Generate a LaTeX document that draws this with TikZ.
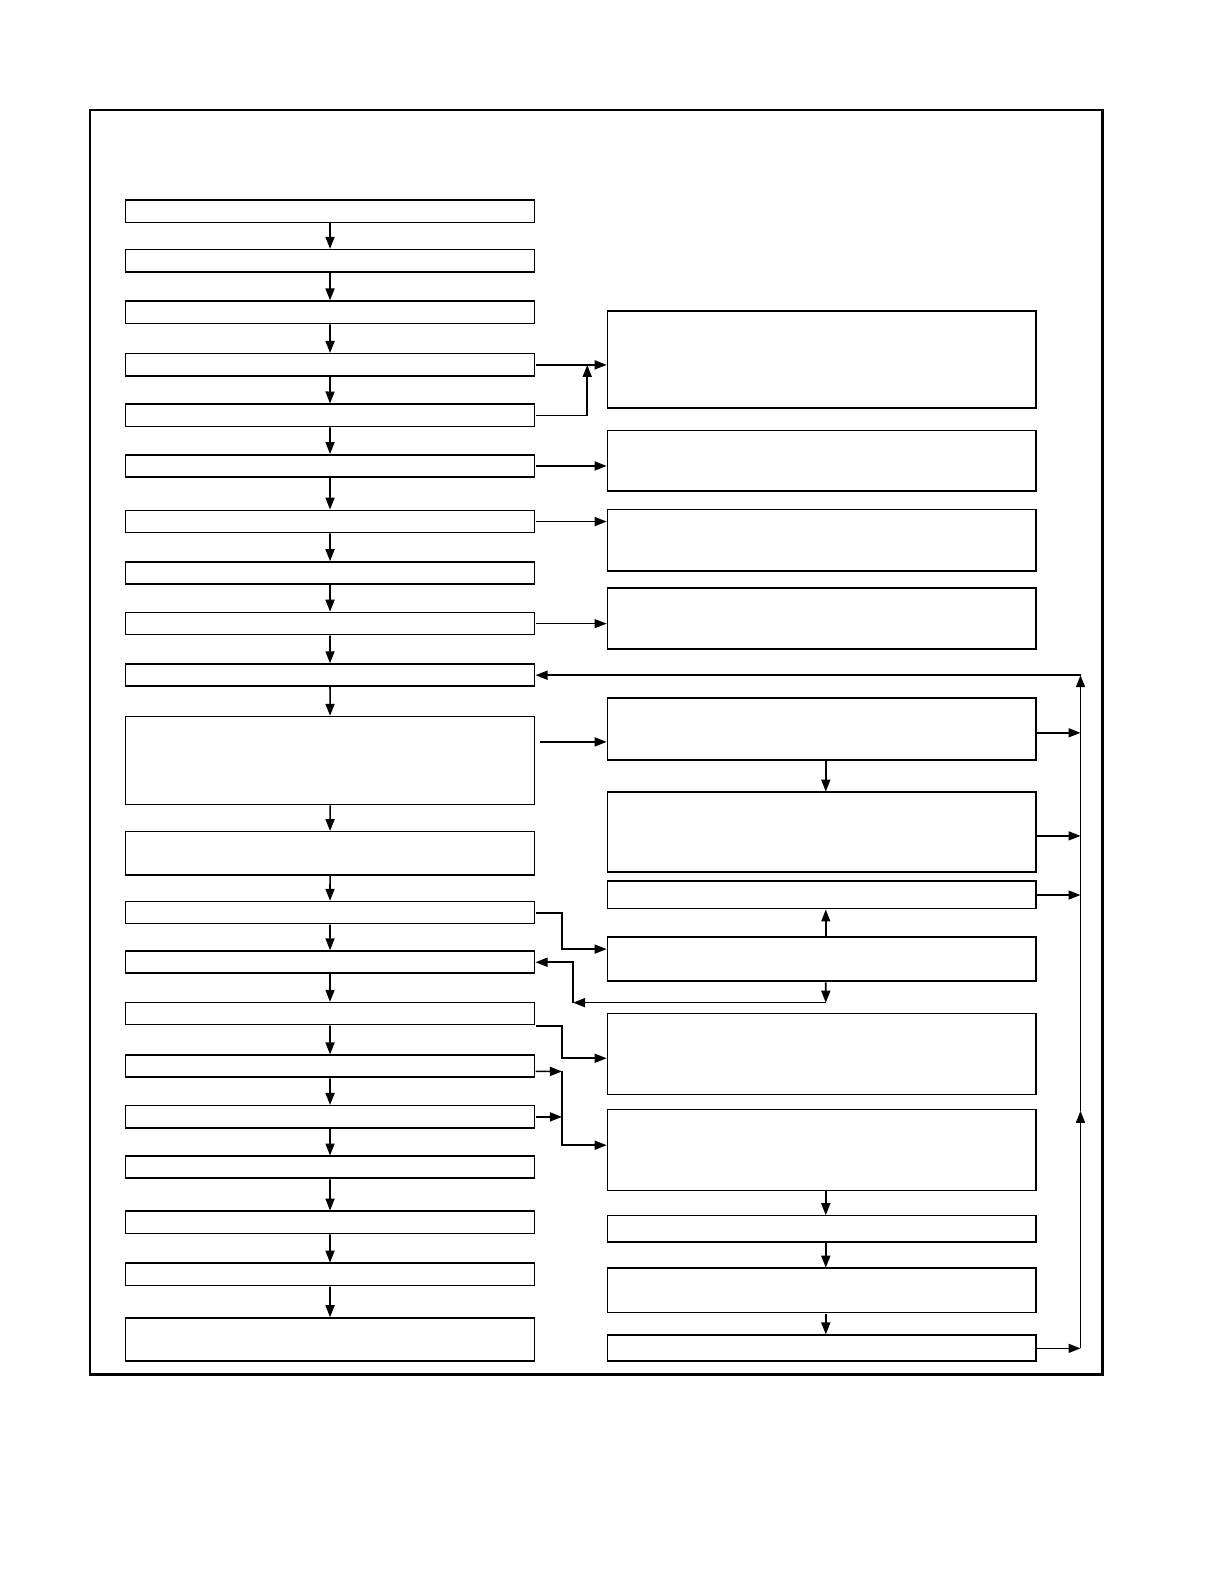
\documentclass[tikz,border=0pt]{standalone}
\usetikzlibrary{arrows.meta,positioning}
\tikzset
{
    lbox/.style  = {rectangle, draw=black, line width=1.6pt, minimum width=405pt, minimum height=#1, inner sep=0pt},
    rbox/.style  = {rectangle, draw=black, line width=1.6pt, minimum width=424pt, minimum height=#1, inner sep=0pt},
    arrow/.style = {line width=1.6pt, -{Triangle[length=12pt,width=9pt]}},
    frame/.style = {line width=2.6pt}
}

\begin{document}
\begin{tikzpicture}[x=1pt, y=-1pt, scale=1.0105, transform shape]

   \useasboundingbox (0,0) rectangle (1211.3,1567.5);
   \draw[frame] (89,109) rectangle (1091,1360);

   \node (l1)  [lbox=22pt] at (326.5, 209)    {};
   \node (l2)  [lbox=22pt] at (326.5, 258)    {};
   \node (l3)  [lbox=22pt] at (326.5, 309)    {};
   \node (l4)  [lbox=22pt] at (326.5, 361)    {};
   \node (l5)  [lbox=22pt] at (326.5, 411)    {};
   \node (l6)  [lbox=22pt] at (326.5, 461)    {};
   \node (l7)  [lbox=22pt] at (326.5, 516)    {};
   \node (l8)  [lbox=22pt] at (326.5, 567)    {};
   \node (l9)  [lbox=22pt] at (326.5, 617)    {};
   \node (l10) [lbox=22pt] at (326.5, 668)    {};
   \node (l11) [lbox=87pt] at (326.5, 752.5)  {};
   \node (l12) [lbox=43pt] at (326.5, 844.5)  {};
   \node (l13) [lbox=22pt] at (326.5, 903)    {};
   \node (l14) [lbox=22pt] at (326.5, 952)    {};
   \node (l15) [lbox=22pt] at (326.5, 1003)   {};
   \node (l16) [lbox=22pt] at (326.5, 1055)   {};
   \node (l17) [lbox=22pt] at (326.5, 1105)   {};
   \node (l18) [lbox=22pt] at (326.5, 1155)   {};
   \node (l19) [lbox=22pt] at (326.5, 1209.5) {};
   \node (l20) [lbox=22pt] at (326.5, 1261)   {};
   \node (l21) [lbox=43pt] at (326.5, 1325.5) {};

   \node (r1)  [rbox=96pt] at (813, 356)      {};
   \node (r2)  [rbox=60pt] at (813, 456)      {};
   \node (r3)  [rbox=61pt] at (813, 534.5)    {};
   \node (r4)  [rbox=60pt] at (813, 612)      {};
   \node (r5)  [rbox=61pt] at (813, 721.5)    {};
   \node (r6)  [rbox=79pt] at (813, 823.5)    {};
   \node (r7)  [rbox=27pt] at (813, 885.5)    {};
   \node (r8)  [rbox=44pt] at (813, 949)      {};
   \node (r9)  [rbox=80pt] at (813, 1043)     {};
   \node (r10) [rbox=80pt] at (813, 1138)     {};
   \node (r11) [rbox=26pt] at (813, 1216)     {};
   \node (r12) [rbox=44pt] at (813, 1277)     {};
   \node (r13) [rbox=26pt] at (813, 1334)     {};

   \coordinate (j1)   at (581, 361);
   \coordinate (j2)   at (556, 939);
   \coordinate (j3)   at (817, 992);
   \coordinate (j4)   at (567, 992);
   \coordinate (j5)   at (556, 1047);
   \coordinate (j6)   at (556, 1133);
   \coordinate (j7)   at (556, 1060);
   \coordinate (btop) at (1069, 668);
   \coordinate (bmid) at (1069, 1099);
   \coordinate (bbot) at (1069, 1334);

   % left column
   \path[arrow]
      (l1)  edge (l2)
      (l2)  edge (l3)
      (l3)  edge (l4)
      (l4)  edge (l5)
      (l5)  edge (l6)
      (l6)  edge (l7)
      (l7)  edge (l8)
      (l8)  edge (l9)
      (l9)  edge (l10)
      (l10) edge (l11)
      (l11) edge (l12)
      (l12) edge (l13)
      (l13) edge (l14)
      (l14) edge (l15)
      (l15) edge (l16)
      (l16) edge (l17)
      (l17) edge (l18)
      (l18) edge (l19)
      (l19) edge (l20)
      (l20) edge (l21);

   % right column
   \path[arrow]
      ([xshift=4pt]r5.south)  edge ([xshift=4pt]r6.north)
      ([xshift=4pt]r8.north)  edge ([xshift=4pt]r7.south)
      ([xshift=4pt]r8.south)  edge (j3)
      ([xshift=4pt]r10.south) edge ([xshift=4pt]r11.north)
      ([xshift=4pt]r11.south) edge ([xshift=4pt]r12.north)
      ([xshift=4pt]r12.south) edge ([xshift=4pt]r13.north);

   % left to right
   \draw[arrow] (l4.east) -- (l4.east -| r1.west);
   \draw[arrow] (l5.east) -| (j1);
   \draw[arrow] (l6.east) -- (l6.east -| r2.west);
   \draw[arrow] (l7.east) -- (l7.east -| r3.west);
   \draw[arrow, line width=0.8pt] (l9.east) -- (l9.east -| r4.west);
   \draw[arrow] ([shift={(4pt,18.5pt)}]l11.east) -- ([yshift=18.5pt]l11.east -| r5.west);
   \draw[arrow] (l13.east) -| (j2) -- (j2 -| r8.west);
   \draw[arrow] (j3) -- (j4);
   \draw[arrow] (j4) |- (l14.east);
   \draw[arrow] (l15.south east) -| (j5) -- (j5 -| r9.west);
   \draw[arrow] ([yshift=-5pt]l16.east) -- (j7);
   \draw[arrow] (l17.east) -- (l17.east -| j7);
   \draw[arrow] (j7) -- (j6) -- (j6 -| r10.west);

   % return bus
   \draw[arrow] ([yshift=-3.5pt]r5.east) -- ([yshift=-3.5pt]r5.east -| btop);
   \draw[arrow] ([yshift=-3.5pt]r6.east) -- ([yshift=-3.5pt]r6.east -| btop);
   \draw[arrow] (r7.east) -- (r7.east -| btop);
   \draw[arrow] (r13.east) -- (bbot);
   \draw[arrow] (bbot) -- (bmid);
   \draw[arrow] (bmid) -- (btop);
   \draw[arrow] (btop) -- (l10.east);

\end{tikzpicture}
\end{document}
